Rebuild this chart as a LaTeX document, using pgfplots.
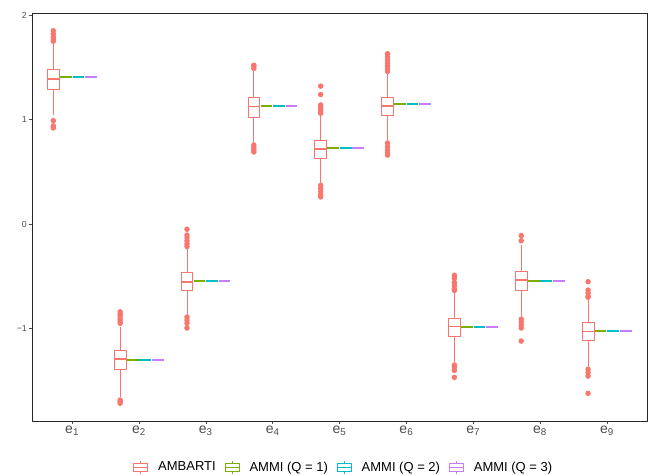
\documentclass[border=0pt]{standalone}
\usepackage{fontspec}
\setmainfont{Liberation Sans}
\usepackage{pgfplots}
\pgfplotsset{compat=1.18}
\usepgfplotslibrary{statistics}
\definecolor{cA}{HTML}{F8766D}
\definecolor{cB}{HTML}{7CAE00}
\definecolor{cC}{HTML}{00BFC4}
\definecolor{cD}{HTML}{C77CFF}
\definecolor{txt}{HTML}{4D4D4D}
\pgfplotsset{
  amb/.style={forget plot, color=cA, draw=cA, line width=0.8bp,
    mark=*, mark size=2.3bp, mark options={fill=cA, draw=cA, solid},
    boxplot/draw direction=y,
    boxplot/box extend=0.175, boxplot/whisker extend=0,
    boxplot/every box/.style={draw=cA, fill=white, line width=0.8bp},
    boxplot/every whisker/.style={draw=cA, line width=0.8bp},
    boxplot/every median/.style={draw=cA, line width=1.4bp}},
  ammi/.style={forget plot, color=#1, line width=2bp, no markers, line cap=butt},
  legbox/.style={legend image code/.code={
     \draw[#1,line width=0.8bp] (7bp,-6.5bp) -- (7bp,-4bp);
     \draw[#1,line width=0.8bp,fill=white] (0bp,-4bp) rectangle (14bp,4bp);
     \draw[#1,line width=0.8bp] (0bp,0bp) -- (14bp,0bp);
     \draw[#1,line width=0.8bp] (7bp,4bp) -- (7bp,6.5bp);}},
}
\begin{document}
\begin{tikzpicture}
\begin{axis}[
  width=615bp, height=408bp, scale only axis,
  xmin=0.4, xmax=9.6, ymin=-1.885, ymax=2.02,
  xtick={1,2,3,4,5,6,7,8,9},
  xticklabels={e\textsubscript{1},e\textsubscript{2},e\textsubscript{3},e\textsubscript{4},e\textsubscript{5},e\textsubscript{6},e\textsubscript{7},e\textsubscript{8},e\textsubscript{9}},
  ytick={-1,0,1,2}, yticklabels={−1,0,1,2},
  tick align=outside, xtick pos=bottom, ytick pos=left,
  major tick length=3bp,
  tick style={black!70, line width=0.6bp},
  axis line style={black!85, line width=0.7bp},
  x tick label style={font=\fontsize{14bp}{16bp}\selectfont, text=txt, inner sep=1bp, yshift=-1bp},
  y tick label style={font=\fontsize{8.8bp}{10bp}\selectfont, text=txt, inner sep=2bp},
  legend style={at={(0.507,-0.113)}, anchor=center, draw=none, fill=none,
    legend columns=4, font=\fontsize{13bp}{15bp}\selectfont,
    /tikz/every odd column/.append style={column sep=8bp},
    /tikz/every even column/.append style={column sep=7bp}},
  legend cell align=left,
]
% ---- e1
\addplot[amb, boxplot prepared={draw position=0.71875, lower whisker=1.04, lower quartile=1.292, median=1.388, upper quartile=1.483, upper whisker=1.73}]
  coordinates {(0,1.75) (0,1.77) (0,1.79) (0,1.82) (0,1.85) (0,0.99) (0,0.94) (0,0.92)};
\addplot[ammi=cB] coordinates {(0.81875,1.407) (0.99375,1.407)};
\addplot[ammi=cC] coordinates {(1.00625,1.407) (1.18125,1.407)};
\addplot[ammi=cD] coordinates {(1.19375,1.407) (1.36875,1.407)};
% ---- e2
\addplot[amb, boxplot prepared={draw position=1.71875, lower whisker=-1.655, lower quartile=-1.388, median=-1.292, upper quartile=-1.206, upper whisker=-0.985}]
  coordinates {(0,-0.84) (0,-0.86) (0,-0.88) (0,-0.91) (0,-0.93) (0,-0.95) (0,-1.685) (0,-1.70) (0,-1.715)};
\addplot[ammi=cB] coordinates {(1.81875,-1.30) (1.99375,-1.30)};
\addplot[ammi=cC] coordinates {(2.00625,-1.30) (2.18125,-1.30)};
\addplot[ammi=cD] coordinates {(2.19375,-1.30) (2.36875,-1.30)};
% ---- e3
\addplot[amb, boxplot prepared={draw position=2.71875, lower whisker=-0.88, lower quartile=-0.638, median=-0.555, upper quartile=-0.466, upper whisker=-0.23}]
  coordinates {(0,-0.05) (0,-0.105) (0,-0.13) (0,-0.16) (0,-0.19) (0,-0.215) (0,-0.89) (0,-0.92) (0,-0.95) (0,-0.995)};
\addplot[ammi=cB] coordinates {(2.81875,-0.548) (2.99375,-0.548)};
\addplot[ammi=cC] coordinates {(3.00625,-0.548) (3.18125,-0.548)};
\addplot[ammi=cD] coordinates {(3.19375,-0.548) (3.36875,-0.548)};
% ---- e4
\addplot[amb, boxplot prepared={draw position=3.71875, lower whisker=0.775, lower quartile=1.024, median=1.123, upper quartile=1.209, upper whisker=1.47}]
  coordinates {(0,1.49) (0,1.51) (0,1.52) (0,0.756) (0,0.73) (0,0.71) (0,0.69)};
\addplot[ammi=cB] coordinates {(3.81875,1.132) (3.99375,1.132)};
\addplot[ammi=cC] coordinates {(4.00625,1.132) (4.18125,1.132)};
\addplot[ammi=cD] coordinates {(4.19375,1.132) (4.36875,1.132)};
% ---- e5
\addplot[amb, boxplot prepared={draw position=4.71875, lower whisker=0.38, lower quartile=0.628, median=0.72, upper quartile=0.804, upper whisker=1.05}]
  coordinates {(0,1.32) (0,1.24) (0,1.14) (0,1.12) (0,1.10) (0,1.08) (0,1.06) (0,0.37) (0,0.34) (0,0.31) (0,0.28) (0,0.26)};
\addplot[ammi=cB] coordinates {(4.81875,0.727) (4.99375,0.727)};
\addplot[ammi=cC] coordinates {(5.00625,0.727) (5.18125,0.727)};
\addplot[ammi=cD] coordinates {(5.19375,0.727) (5.36875,0.727)};
% ---- e6
\addplot[amb, boxplot prepared={draw position=5.71875, lower whisker=0.788, lower quartile=1.043, median=1.129, upper quartile=1.212, upper whisker=1.445}]
  coordinates {(0,1.63) (0,1.60) (0,1.57) (0,1.54) (0,1.51) (0,1.48) (0,1.46) (0,0.775) (0,0.74) (0,0.71) (0,0.68) (0,0.66)};
\addplot[ammi=cB] coordinates {(5.81875,1.145) (5.99375,1.145)};
\addplot[ammi=cC] coordinates {(6.00625,1.145) (6.18125,1.145)};
\addplot[ammi=cD] coordinates {(6.19375,1.145) (6.36875,1.145)};
% ---- e7
\addplot[amb, boxplot prepared={draw position=6.71875, lower whisker=-1.34, lower quartile=-1.078, median=-0.983, upper quartile=-0.903, upper whisker=-0.648}]
  coordinates {(0,-0.49) (0,-0.52) (0,-0.56) (0,-0.59) (0,-0.62) (0,-0.635) (0,-1.35) (0,-1.37) (0,-1.40) (0,-1.467)};
\addplot[ammi=cB] coordinates {(6.81875,-0.989) (6.99375,-0.989)};
\addplot[ammi=cC] coordinates {(7.00625,-0.989) (7.18125,-0.989)};
\addplot[ammi=cD] coordinates {(7.19375,-0.989) (7.36875,-0.989)};
% ---- e8
\addplot[amb, boxplot prepared={draw position=7.71875, lower whisker=-0.903, lower quartile=-0.632, median=-0.536, upper quartile=-0.456, upper whisker=-0.2}]
  coordinates {(0,-0.11) (0,-0.16) (0,-0.91) (0,-0.94) (0,-0.97) (0,-0.995) (0,-1.12)};
\addplot[ammi=cB] coordinates {(7.81875,-0.545) (7.99375,-0.545)};
\addplot[ammi=cC] coordinates {(8.00625,-0.545) (8.18125,-0.545)};
\addplot[ammi=cD] coordinates {(8.19375,-0.545) (8.36875,-0.545)};
% ---- e9
\addplot[amb, boxplot prepared={draw position=8.71875, lower whisker=-1.38, lower quartile=-1.116, median=-1.03, upper quartile=-0.944, upper whisker=-0.71}]
  coordinates {(0,-0.552) (0,-0.632) (0,-0.66) (0,-0.69) (0,-0.70) (0,-1.39) (0,-1.42) (0,-1.455) (0,-1.62)};
\addplot[ammi=cB] coordinates {(8.81875,-1.024) (8.99375,-1.024)};
\addplot[ammi=cC] coordinates {(9.00625,-1.024) (9.18125,-1.024)};
\addplot[ammi=cD] coordinates {(9.19375,-1.024) (9.36875,-1.024)};
% ---- legend
\addlegendimage{legbox=cA}
\addlegendentry{AMBARTI}
\addlegendimage{legbox=cB}
\addlegendentry{AMMI (Q = 1)}
\addlegendimage{legbox=cC}
\addlegendentry{AMMI (Q = 2)}
\addlegendimage{legbox=cD}
\addlegendentry{AMMI (Q = 3)}
\end{axis}
\pgfresetboundingbox
\path[use as bounding box] (-32bp,-54bp) rectangle (617bp,421bp);
\end{tikzpicture}
\end{document}
